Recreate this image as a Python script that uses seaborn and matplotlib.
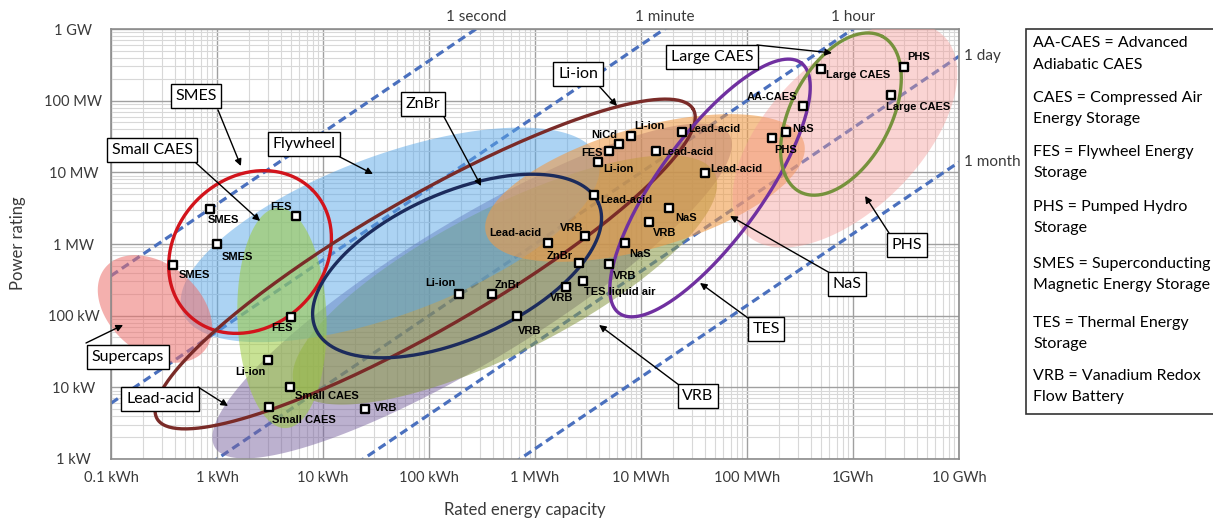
import numpy as np
import matplotlib
matplotlib.use("Agg")
import matplotlib.pyplot as plt
from matplotlib.patches import Rectangle
from matplotlib.ticker import FixedLocator, LogLocator, NullFormatter
import seaborn as sns

# ---------------- data ----------------
energy_ticks = [0.1, 1, 10, 100, 1e3, 1e4, 1e5, 1e6, 1e7]          # kWh
energy_tick_labels = ["0.1 kWh", "1 kWh", "10 kWh", "100 kWh", "1 MWh",
                      "10 MWh", "100 MWh", "1GWh", "10 GWh"]
power_ticks = [1, 10, 100, 1e3, 1e4, 1e5, 1e6]                       # kW
power_tick_labels = ["1 kW", "10 kW", "100 kW", "1 MW", "10 MW", "100 MW", "1 GW"]

# discharge-time reference lines (power = energy / time)
duration_names = ["1 second", "1 minute", "1 hour", "1 day", "1 month"]
duration_hours = [1 / 3600, 1 / 60, 1, 24, 720]

# shaded technology regions: centre (kWh, kW), half-axes in energy decades, tilt in degrees
fill_names = ["Lead-acid", "VRB", "Flywheel", "Small CAES", "Supercaps", "NaS", "PHS"]
fill_center_e = [255, 520, 43, 4.1, 0.26, 10900, 8.4e5]
fill_center_p = [221, 315, 1340, 93, 124, 6050, 3.3e4]
fill_half_len = [2.84, 2.22, 2.09, 1.04, 0.61, 1.56, 1.32]
fill_half_wid = [0.66, 0.68, 0.75, 0.42, 0.42, 0.57, 0.71]
fill_tilt = [31.3, 27, 20.4, 92, -40, 16, 45]

# outlined technology regions
outline_names = ["SMES", "Li-ion", "ZnBr", "TES", "Large CAES"]
outline_center_e = [2.05, 92, 184, 4.48e4, 7.7e5]
outline_center_p = [773, 526, 493, 6050, 6.5e4]
outline_half_len = [0.83, 2.92, 1.46, 1.46, 0.83]
outline_half_wid = [0.70, 0.62, 0.69, 0.49, 0.47]
outline_tilt = [45, 30, 24, 54, 62]

# individual installations
point_names = ["SMES", "SMES", "SMES", "FES", "FES", "Li-ion", "Small CAES", "Small CAES",
               "VRB", "Li-ion", "ZnBr", "VRB", "VRB", "TES liquid air", "VRB", "NaS",
               "ZnBr", "Lead-acid", "VRB", "Lead-acid", "NaS", "VRB", "Li-ion", "FES",
               "NiCd", "Li-ion", "Lead-acid", "Lead-acid", "Lead-acid", "AA-CAES", "NaS",
               "PHS", "Large CAES", "PHS", "Large CAES"]
point_energy = [0.86, 1.0, 0.385, 5.56, 4.99, 3.03, 4.88, 3.09,
                24.9, 192, 393, 676, 1960, 2840, 4990, 7060,
                2600, 1330, 2970, 3600, 18400, 11900, 3930, 4990,
                6200, 8050, 24400, 13900, 40200, 3.37e5, 2.33e5,
                1.72e5, 4.99e5, 3.03e6, 2.28e6]
point_power = [3080, 1000, 509, 2460, 95.8, 24.1, 10.1, 5.3,
               5.0, 200, 200, 98.9, 251, 305, 526, 1033,
               543, 1033, 1294, 4830, 3180, 2030, 13900, 19900,
               24800, 32100, 36600, 19900, 9790, 84300, 36600,
               30100, 2.77e5, 2.95e5, 1.2e5]

# callout boxes and the points they indicate (kWh, kW)
callout_names = ["SMES", "Small CAES", "Flywheel", "ZnBr", "Li-ion", "Large CAES",
                 "PHS", "NaS", "TES", "VRB", "Supercaps", "Lead-acid"]
callout_target_e = [1.68, 2.55, 29.6, 310, 5940, 6.34e5, 1.3e6, 6.92e4, 3.6e4, 4020, 0.13, 1.27]
callout_target_p = [12250, 2094, 9480, 6440, 84300, 4.63e5, 4677, 2460, 286, 74.1, 74.1, 5.49]

glossary_lines = ["AA-CAES = Advanced", "Adiabatic CAES",
                  "CAES = Compressed Air", "Energy Storage",
                  "FES = Flywheel Energy", "Storage",
                  "PHS = Pumped Hydro", "Storage",
                  "SMES = Superconducting", "Magnetic Energy Storage",
                  "TES = Thermal Energy", "Storage",
                  "VRB = Vanadium Redox", "Flow Battery"]

# ---------------- styling / layout ----------------
W, H = 1213, 521
fill_colors = ["#7A64A0", "#8A9A45", "#5AA8E8", "#9CCB3E", "#EC6F6C", "#F09A45", "#F59A96"]
fill_alpha = [0.5, 0.55, 0.5, 0.55, 0.55, 0.58, 0.42]
fill_layer = [2.0, 2.1, 2.2, 2.3, 2.4, 2.5, 2.6]
outline_colors = ["#D2141C", "#7A2B28", "#1C2B5C", "#7030A0", "#76923C"]
line_color = "#4A70BE"

# label offsets from each point (pixels, +y upwards) and horizontal alignment
point_label_pos = [(-2, -11, "left"), (5, -13, "left"), (6, -10, "left"), (-4, 9, "right"),
                   (2, -11, "right"), (-2, -12, "right"), (5, -9, "left"), (3, -13, "left"),
                   (9, 1, "left"), (-3, 11, "right"), (3, 9, "left"), (1, -15, "left"),
                   (-4, -11, "center"), (1, -11, "left"), (4, -12, "left"), (4, -11, "left"),
                   (-6, 7, "right"), (-7, 10, "right"), (-2, 8, "right"), (6, -5, "left"),
                   (6, -10, "left"), (4, -11, "left"), (5, -7, "left"), (-6, -2, "right"),
                   (-2, 9, "right"), (3, 10, "left"), (6, 3, "left"), (5, -1, "left"),
                   (5, 4, "left"), (-6, 9, "right"), (6, 3, "left"),
                   (2, -12, "left"), (5, -6, "left"), (3, 10, "left"), (-5, -12, "left")]
# callout box centres and arrow start points (pixels from top-left of the figure)
callout_box_px = [(196, 96), (152, 150), (304, 144), (423, 104), (578, 74), (712, 57),
                  (907, 245), (847, 284), (766, 329), (698, 396), (128, 357), (160, 399)]
callout_start_px = [(218, 110), (196, 163), (338, 156), (443, 115), (599, 86), (757, 45),
                    (889, 233), (830, 273), (748, 318), (679, 385), (86, 343), (198, 387)]

BODY_FONT = ["Lato", "DejaVu Sans"]
MARK_FONT = ["Liberation Sans", "DejaVu Sans"]
TEXT_GRAY = "#3A3A3A"


def fpx(x, y):
    return x / W, 1 - y / H


def region_outline(ce, cp, a, b, tilt, ratio, n=300):
    """Ellipse on the page, expressed in energy/power units on log-log axes."""
    t = np.linspace(0, 2 * np.pi, n)
    th = np.radians(tilt)
    du = a * np.cos(t) * np.cos(th) - b * np.sin(t) * np.sin(th)
    dv = a * np.cos(t) * np.sin(th) + b * np.sin(t) * np.cos(th)
    return ce * 10 ** du, cp * 10 ** (dv / ratio)


sns.set_theme(style="white")
plt.rcParams["font.family"] = BODY_FONT

fig = plt.figure(figsize=(W / 100, H / 100), dpi=100)
ax_l, ax_b, ax_w, ax_h = 111 / W, 1 - 459 / H, 848 / W, 430 / H
ax = fig.add_axes([ax_l, ax_b, ax_w, ax_h])
ax.set_xscale("log")
ax.set_yscale("log")
ax.set_xlim(energy_ticks[0], energy_ticks[-1])
ax.set_ylim(power_ticks[0], power_ticks[-1])

# pixel size of one decade vertically relative to one decade horizontally
n_xdec = np.log10(energy_ticks[-1] / energy_ticks[0])
n_ydec = np.log10(power_ticks[-1] / power_ticks[0])
ratio = (ax_h * H / n_ydec) / (ax_w * W / n_xdec)

# grid
ax.xaxis.set_major_locator(FixedLocator(energy_ticks))
ax.yaxis.set_major_locator(FixedLocator(power_ticks))
ax.xaxis.set_minor_locator(LogLocator(base=10, subs=np.arange(2, 10), numticks=50))
ax.yaxis.set_minor_locator(LogLocator(base=10, subs=np.arange(2, 10), numticks=50))
ax.xaxis.set_minor_formatter(NullFormatter())
ax.yaxis.set_minor_formatter(NullFormatter())
ax.grid(which="major", color="#A0A0A0", lw=1.0, zorder=0)
ax.grid(which="minor", color="#D8D8D8", lw=0.8, zorder=0)
ax.set_axisbelow(True)
for s in ax.spines.values():
    s.set_color("#8C8C8C")
    s.set_linewidth(1.2)

ax.set_xticks(energy_ticks)
ax.set_xticklabels(energy_tick_labels, fontsize=10.5, color=TEXT_GRAY)
ax.set_yticks(power_ticks)
ax.set_yticklabels(power_tick_labels, fontsize=10.5, color=TEXT_GRAY, ha="center")
ax.tick_params(axis="both", which="both", length=0)
ax.tick_params(axis="x", pad=9)
ax.tick_params(axis="y", pad=27)
ax.set_xlabel("")
ax.set_ylabel("")
fig.text(*fpx(525, 510), "Rated energy capacity", ha="center", va="center",
         fontsize=12, color=TEXT_GRAY)
fig.text(*fpx(18, 243), "Power rating", ha="center", va="center", rotation=90,
         fontsize=12, color=TEXT_GRAY)

# discharge-time lines
e_span = np.array([energy_ticks[0], energy_ticks[-1]])
for name, hrs in zip(duration_names, duration_hours):
    sns.lineplot(x=e_span, y=e_span / hrs, ax=ax, color=line_color, lw=2.3,
                 linestyle=(0, (2.6, 1.5)), zorder=1.5)
    if e_span[-1] / hrs > power_ticks[-1]:
        ax.annotate(name, xy=(power_ticks[-1] * hrs, power_ticks[-1]), xytext=(0, 12),
                    textcoords="offset pixels", ha="center", va="center",
                    fontsize=11, color=TEXT_GRAY, annotation_clip=False)
    else:
        ax.annotate(name, xy=(e_span[-1], e_span[-1] / hrs), xytext=(5, 0),
                    textcoords="offset pixels", ha="left", va="center",
                    fontsize=11, color=TEXT_GRAY, annotation_clip=False)

# shaded regions
for i, name in enumerate(fill_names):
    ex, px = region_outline(fill_center_e[i], fill_center_p[i], fill_half_len[i],
                            fill_half_wid[i], fill_tilt[i], ratio)
    ax.fill(ex, px, color=fill_colors[i], alpha=fill_alpha[i], lw=0, zorder=fill_layer[i],
            clip_on=(name != "Supercaps"))

# outlined regions
for i, name in enumerate(outline_names):
    ex, px = region_outline(outline_center_e[i], outline_center_p[i], outline_half_len[i],
                            outline_half_wid[i], outline_tilt[i], ratio)
    ax.plot(ex, px, color=outline_colors[i], lw=2.4, zorder=3)

# installations
sns.scatterplot(x=point_energy, y=point_power, ax=ax, marker="s", s=26, color="white",
                edgecolor="black", linewidth=1.7, zorder=6)
for name, e, p, (dx, dy, ha) in zip(point_names, point_energy, point_power, point_label_pos):
    ax.annotate(name, xy=(e, p), xytext=(dx, dy), textcoords="offset pixels",
                ha=ha, va="center", fontsize=8, fontweight="bold", family=MARK_FONT,
                color="black", zorder=7)

# callouts
for name, te, tp, bpos, spos in zip(callout_names, callout_target_e, callout_target_p,
                                    callout_box_px, callout_start_px):
    ax.annotate("", xy=(te, tp), xycoords="data", xytext=fpx(*spos),
                textcoords="figure fraction",
                arrowprops=dict(arrowstyle="-|>", color="black", lw=1.0,
                                mutation_scale=10, shrinkA=0, shrinkB=0),
                zorder=8, annotation_clip=False)
    fig.text(*fpx(*bpos), name, ha="center", va="center", fontsize=11.5, color="black",
             zorder=9, bbox=dict(boxstyle="square,pad=0.3", fc="white", ec="black", lw=1.0))

# glossary panel
fig.patches.append(Rectangle(fpx(1026, 414), (1225 - 1026) / W, (414 - 29) / H,
                             transform=fig.transFigure, fc="white", ec="#333333", lw=1.2))
gloss_y = [43, 65, 98, 119, 152, 173, 207, 228, 264, 285, 323, 344, 376, 397]
for txt, y in zip(glossary_lines, gloss_y):
    fig.text(*fpx(1033, y), txt, ha="left", va="center", fontsize=11.5, color="black")

fig.savefig("out.png", dpi=100)
